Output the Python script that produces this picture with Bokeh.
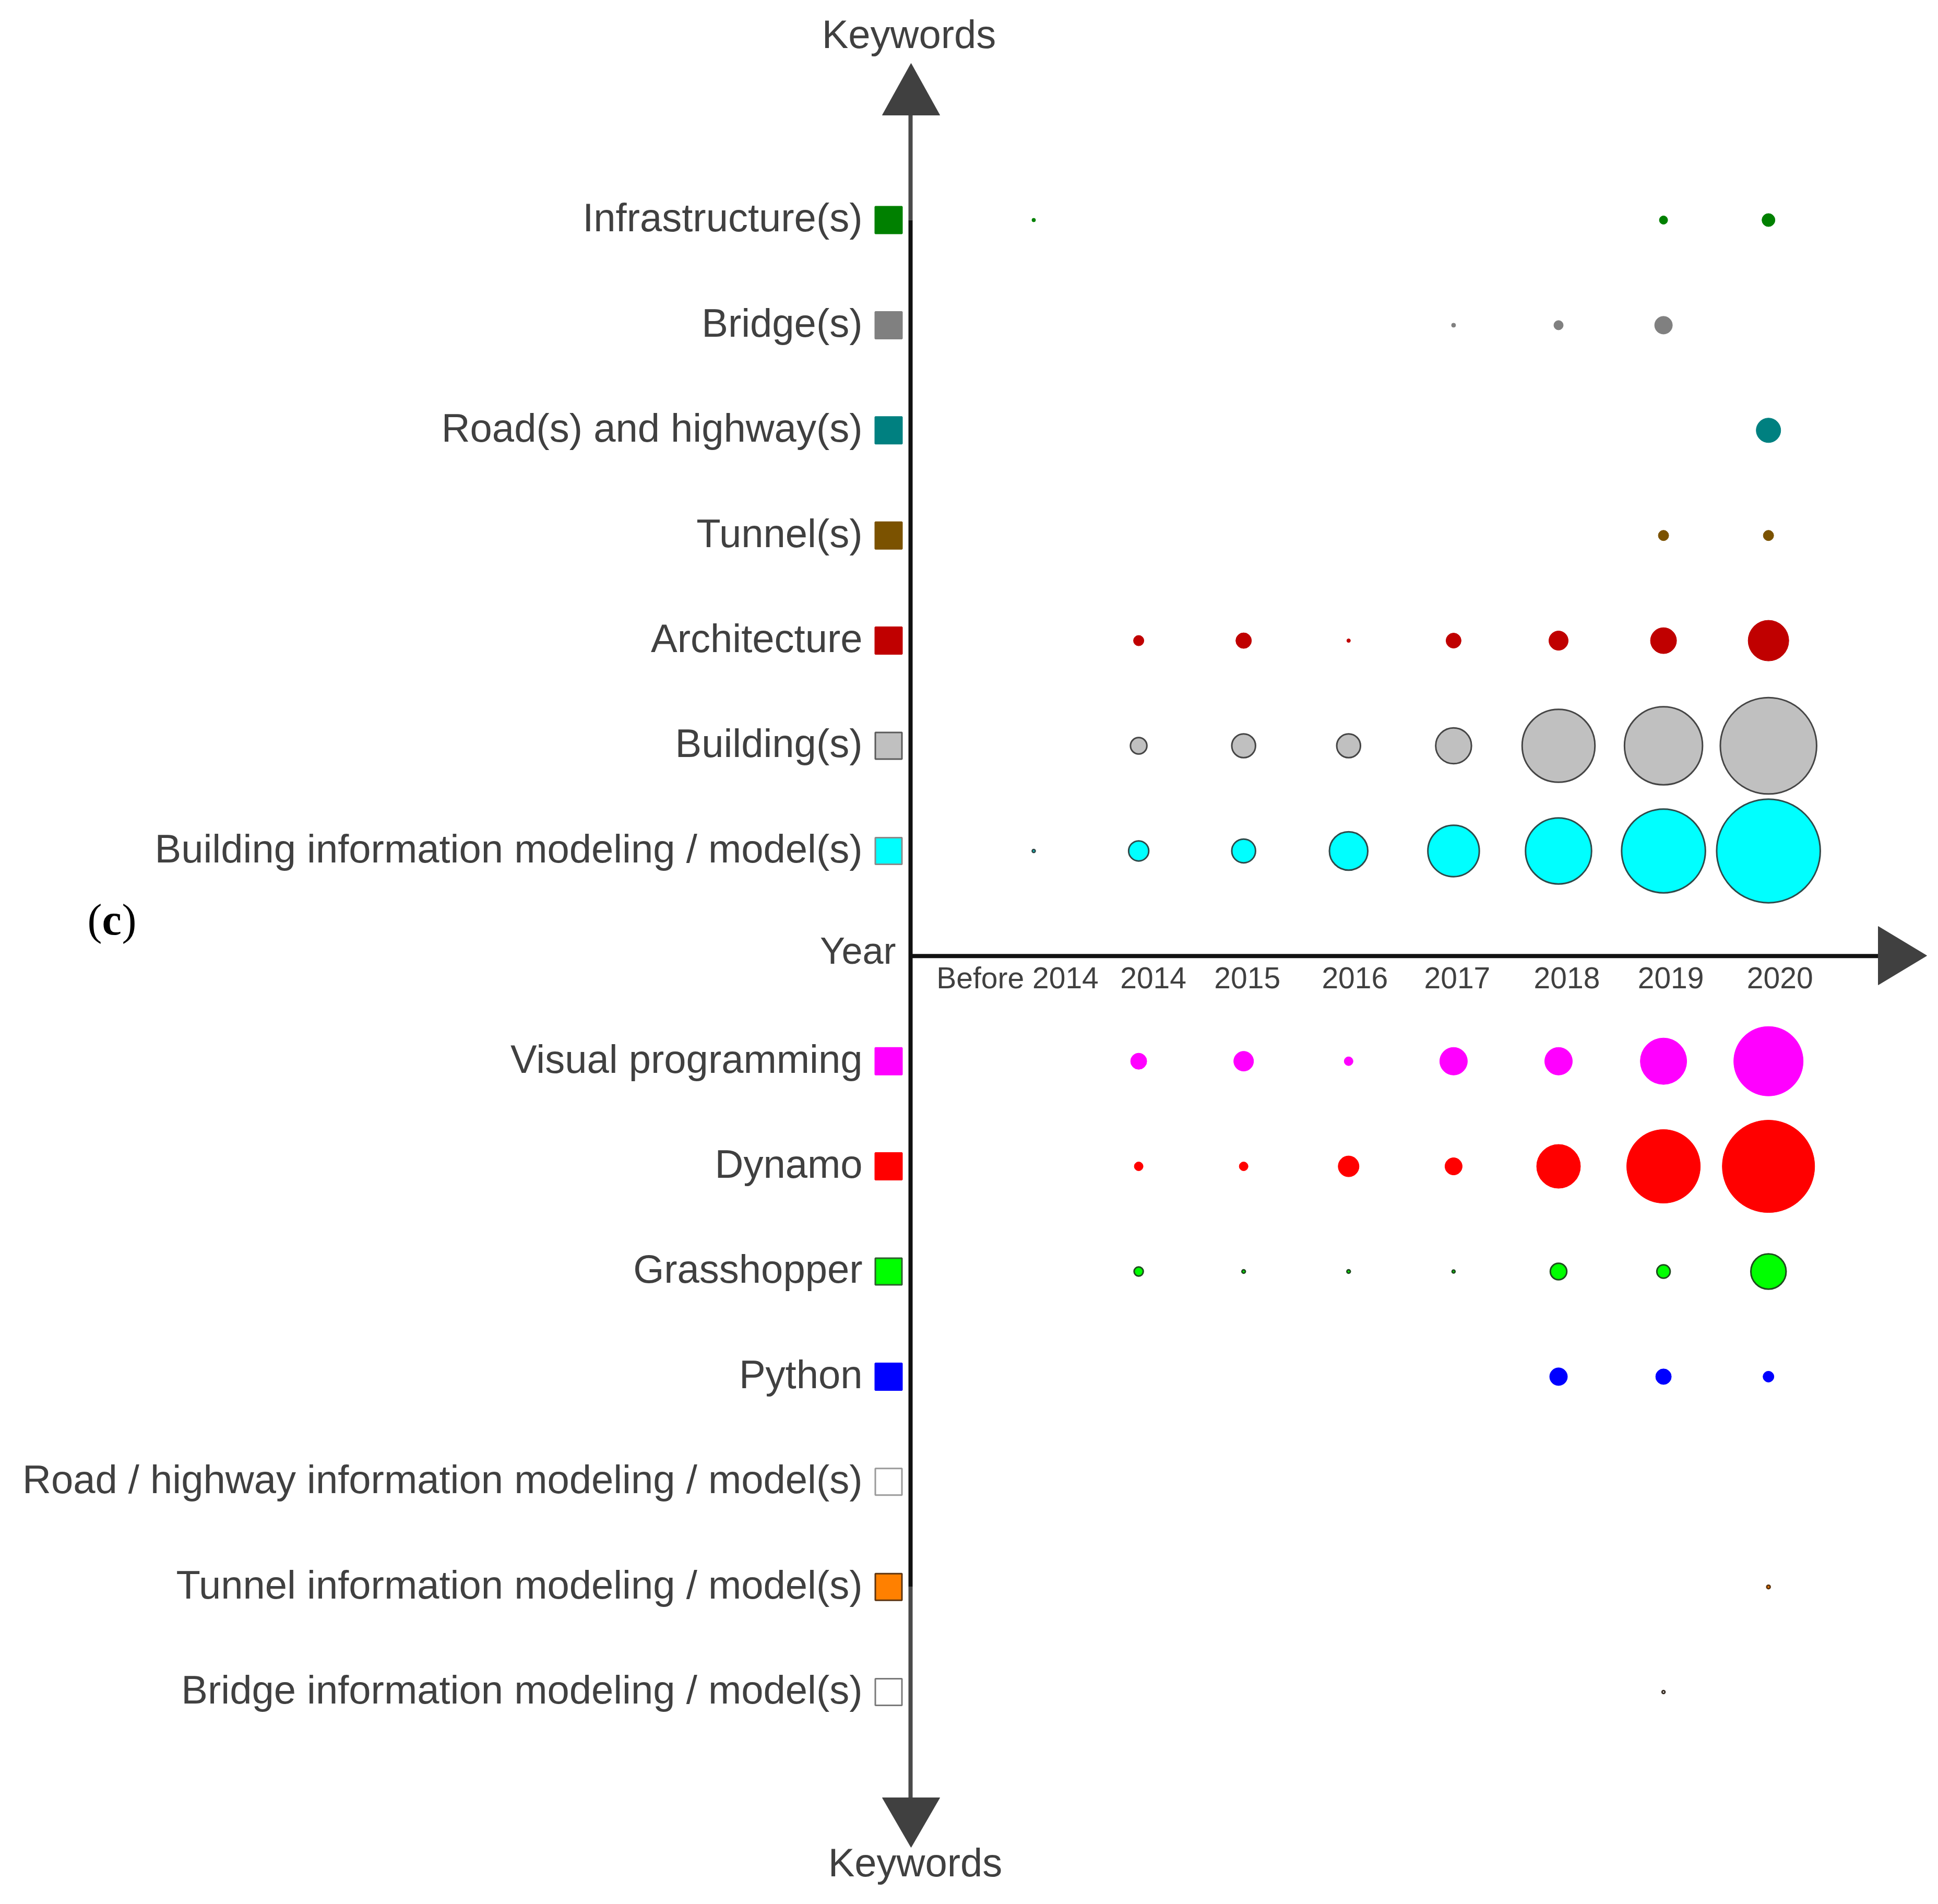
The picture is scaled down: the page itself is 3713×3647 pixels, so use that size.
from bokeh.plotting import figure
from bokeh.models import Range1d, ColumnDataSource
from bokeh.embed import file_html
from bokeh.resources import INLINE
from bokeh.core.properties import value

# ---------------- data ----------------
years = ["Before 2014", "2014", "2015", "2016", "2017", "2018", "2019", "2020"]

upper_keywords = ["Infrastructure(s)", "Bridge(s)", "Road(s) and highway(s)", "Tunnel(s)",
                  "Architecture", "Building(s)", "Building information modeling / model(s)"]
lower_keywords = ["Visual programming", "Dynamo", "Grasshopper", "Python",
                  "Road / highway information modeling / model(s)",
                  "Tunnel information modeling / model(s)",
                  "Bridge information modeling / model(s)"]

# relative number of publications per year (bubble diameter is proportional)
infrastructure = [3.5, 0, 0, 0, 0, 0, 8, 12.5]
bridge = [0, 0, 0, 0, 4, 9, 17, 0]
road_highway = [0, 0, 0, 0, 0, 0, 0, 23.5]
tunnel = [0, 0, 0, 0, 0, 0, 10, 10]
architecture = [0, 10, 15, 3.5, 14.5, 18.5, 25, 39]
building = [0, 16.5, 23.5, 23.5, 35, 70.5, 75.5, 93]
bim = [3.5, 20, 23.5, 37.5, 50, 64, 81, 100]
visual_programming = [0, 15.5, 19, 8.5, 26.5, 26.5, 44.5, 66.5]
dynamo = [0, 8.5, 8.5, 20, 16.5, 42, 70.5, 88.5]
grasshopper = [0, 9.5, 4, 4, 3.5, 16.5, 13.5, 34.5]
python = [0, 0, 0, 0, 0, 17, 15, 10.5]
road_highway_im = [0, 0, 0, 0, 0, 0, 0, 0]
tunnel_im = [0, 0, 0, 0, 0, 0, 0, 4]
bridge_im = [0, 0, 0, 0, 0, 0, 3.5, 0]

upper_values = [infrastructure, bridge, road_highway, tunnel, architecture, building, bim]
lower_values = [visual_programming, dynamo, grasshopper, python, road_highway_im, tunnel_im, bridge_im]

# ---------------- styles ----------------
upper_fill = ["#008000", "#808080", "#008080", "#7B5200", "#C00000", "#C0C0C0", "#00FFFF"]
lower_fill = ["#FF00FF", "#FF0000", "#00FF00", "#0000FF", "#FFFFFF", "#FF8000", "#FFFFFF"]
upper_edge = [None, None, None, None, None, "#454545", "#2F4A4A"]
lower_edge = [None, None, "#1E4D1E", None, "#888888", "#5E3510", "#3A3028"]
upper_swatch_edge = [None, None, None, None, None, "#5A5A5A", "#8A8A8A"]
lower_swatch_edge = [None, None, "#2D5F2D", None, "#9A9A9A", "#5E3510", "#7A7A7A"]
year_label_nudge = [-31, 28, 7, 12, 7, 16, 14, 22]   # px, label offsets

TEXT = "#404040"
SANS = value("Liberation Sans")
PX_PER_UNIT = 2.0
BASE_FIX = 0.35   # baseline correction, in em

# layout: grid of columns (years) and rows (keywords), 201 px apart
COL0, COLSTEP = 1980.0, 201.1
ROW0, ROWSTEP = 421.0, 201.4
W, H = 3700, 3635


def X(px):
    return (px - COL0) / COLSTEP


def Y(px):
    return (px - ROW0) / ROWSTEP


def base(px_y, size):
    """data y of a text baseline wanted at page pixel px_y"""
    return Y(px_y - BASE_FIX * size)


p = figure(width=W, height=H, output_backend="svg", toolbar_location=None,
           x_range=Range1d(X(0), X(W)), y_range=Range1d(Y(H), Y(0)),
           x_axis_location=None, y_axis_location=None, min_border=0)
p.grid.visible = False
p.outline_line_color = None
p.background_fill_color = "white"
p.border_fill_color = "white"

YEAR_ROW = len(upper_keywords)
rows_upper = list(range(0, len(upper_keywords)))
rows_lower = list(range(YEAR_ROW + 1, YEAR_ROW + 1 + len(lower_keywords)))

keywords = upper_keywords + lower_keywords
rows = rows_upper + rows_lower
values = upper_values + lower_values
fills = upper_fill + lower_fill
edges = upper_edge + lower_edge
sw_edges = upper_swatch_edge + lower_swatch_edge

# ---------------- axes (arrows) ----------------
axis_x = X(1744)
p.line([axis_x, axis_x], [Y(219), rows[0]], line_color="#4A4A4A", line_width=8)
p.line([axis_x, axis_x], [rows[0], rows[-2]], line_color="#111111", line_width=8)
p.line([axis_x, axis_x], [rows[-2], Y(3443)], line_color="#4A4A4A", line_width=8)
p.line([axis_x, X(3600)], [YEAR_ROW, YEAR_ROW], line_color="#111111", line_width=8)

p.patches(xs=[[X(1690), X(1800), X(1745)],
              [X(1690), X(1800), X(1745)],
              [X(3598), X(3598), X(3691)]],
          ys=[[Y(220), Y(220), Y(121)],
              [Y(3443), Y(3443), Y(3538)],
              [Y(1774), Y(1886), Y(1830)]],
          fill_color="#404040", line_color="#404040", line_width=1)

# ---------------- bubbles ----------------
bx, by, bsize, bfill, bline, blw = [], [], [], [], [], []
for vals, r, fc, ec in zip(values, rows, fills, edges):
    for i, v in enumerate(vals):
        if v > 0:
            bx.append(i)
            by.append(r)
            lw = 3.0 if ec else 1.0
            bsize.append(max(v * PX_PER_UNIT - (1.5 if ec else 0), 2))
            bfill.append(fc)
            bline.append(ec if ec else fc)
            blw.append(lw)
src = ColumnDataSource(dict(x=bx, y=by, size=bsize, fill=bfill, line=bline, lw=blw))
p.scatter(x="x", y="y", size="size", marker="circle", fill_color="fill",
          line_color="line", line_width="lw", source=src)

# ---------------- legend swatches and keyword labels ----------------
sw = ColumnDataSource(dict(x=[X(1702)] * len(rows), y=rows, fill=fills,
                           line=[e if e else f for e, f in zip(sw_edges, fills)]))
p.scatter(x="x", y="y", size=51, marker="square", fill_color="fill",
          line_color="line", line_width=3, source=sw)

KW = 76
p.text(x=[X(1652)] * len(rows),
       y=[r + (22 - BASE_FIX * KW) / ROWSTEP for r in rows], text=keywords,
       text_font=SANS, text_font_size=f"{KW}px", text_color=TEXT,
       text_align="right", text_baseline="alphabetic")

# ---------------- year tick labels ----------------
YL = 57
p.text(x=[i + n / COLSTEP for i, n in enumerate(year_label_nudge)],
       y=[YEAR_ROW + (62 - BASE_FIX * YL) / ROWSTEP] * len(years), text=years,
       text_font=SANS, text_font_size=f"{YL}px", text_color=TEXT,
       text_align="center", text_baseline="alphabetic")

# ---------------- axis titles ----------------
p.text(x=[X(1716)], y=[YEAR_ROW + (15 - BASE_FIX * 72) / ROWSTEP], text=["Year"],
       text_font=SANS, text_font_size="72px", text_color=TEXT,
       text_align="right", text_baseline="alphabetic")
p.text(x=[X(1741), X(1753)], y=[base(92, KW), base(3594, KW)], text=["Keywords", "Keywords"],
       text_font=SANS, text_font_size=f"{KW}px", text_color=TEXT,
       text_align="center", text_baseline="alphabetic")

# panel label "(c)"
SERIF = value("Liberation Serif")
CS = 84
p.text(x=[X(167), X(233)], y=[base(1790, CS)] * 2, text=["(", ")"],
       text_font=SERIF, text_font_size=f"{CS}px", text_color="black",
       text_align="left", text_baseline="alphabetic")
p.text(x=[X(195)], y=[base(1790, CS)], text=["c"],
       text_font=SERIF, text_font_size=f"{CS}px", text_font_style="bold",
       text_color="black", text_align="left", text_baseline="alphabetic")

open("out.html", "w").write(file_html(p, INLINE))
